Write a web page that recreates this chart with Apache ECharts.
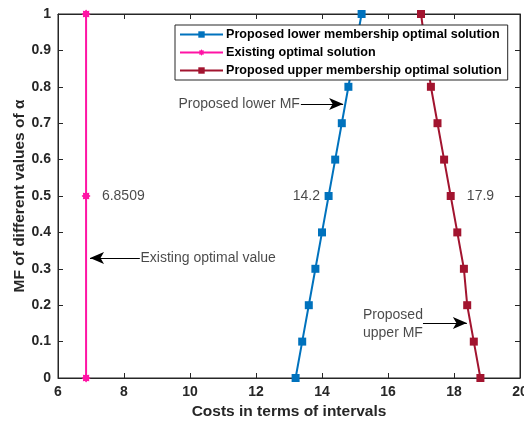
<!DOCTYPE html>
<html>
<head>
<meta charset="utf-8">
<script src="https://cdn.jsdelivr.net/npm/echarts@6/dist/echarts.min.js"></script>
<style>
html, body { margin: 0; padding: 0; background: #fff; }
#chart { width: 524px; height: 422px; }
</style>
</head>
<body>
<div id="chart"></div>
<script>
// alpha levels (y) and costs (x)
const alphaLevels = [0, 0.1, 0.2, 0.3, 0.4, 0.5, 0.6, 0.7, 0.8, 0.9, 1]
const lowerCosts = [13.2, 13.4, 13.6, 13.8, 14.0, 14.2, 14.4, 14.6, 14.8, 15.0, 15.2]
const upperCosts = [18.8, 18.6, 18.4, 18.3, 18.1, 17.9, 17.7, 17.5, 17.3, 17.15, 17.0]
const existingAlpha = [0, 0.5, 1]
const existingCost = 6.8509

const seriesNames = [
	"Proposed lower membership optimal solution",
	"Existing optimal solution",
	"Proposed upper membership optimal solution",
]

const font = "'Liberation Sans', Arial, sans-serif"
const blue = "#0072BD"
const pink = "#FF14A5"
const red = "#A2142F"
// chunky 8-point star, close to the matlab asterisk marker at this size
const starPath = "path://M10,0L6.5,2.7L7.1,7.1L2.7,6.5L0,10L-2.7,6.5L-7.1,7.1L-6.5,2.7L-10,0L-6.5,-2.7L-7.1,-7.1L-2.7,-6.5L0,-10L2.7,-6.5L7.1,-7.1L6.5,-2.7Z"

const pairs = (xs, ys) => xs.map((x, i) => [x, ys[i]])

const axisCommon = {
	axisLine: { show: true, onZero: false, lineStyle: { color: "#262626", width: 1 } },
	axisTick: { show: true, inside: true, length: 5, lineStyle: { color: "#262626" } },
	splitLine: { show: false },
}

const arrow = (from, to) => [
	{ coord: from, symbol: "none" },
	{ coord: to, symbol: "arrow" },
]

const textLabel = (x, y, text, align) => ({
	value: [x, y],
	label: {
		show: true,
		formatter: text,
		position: "inside",
		align: align,
		verticalAlign: "middle",
		color: "#1a1a1a",
		fontFamily: font,
		fontSize: 14,
	},
})

const option = {
	animation: false,
	backgroundColor: "#fff",
	grid: {
		left: 58, right: 4, top: 14, bottom: 44,
		outerBoundsMode: "none",
		show: true, borderColor: "#262626", borderWidth: 1,
	},
	legend: {
		data: seriesNames,
		orient: "vertical",
		left: 175,
		top: 25,
		padding: [3, 6, 3, 4],
		itemGap: 5,
		itemWidth: 43,
		itemHeight: 8,
		backgroundColor: "#fff",
		borderColor: "#262626",
		borderWidth: 1,
		borderRadius: 0,
		textStyle: { fontFamily: font, fontWeight: "bold", fontSize: 12.6, color: "#000", padding: [0, 0, 0, -2] },
	},
	xAxis: [
		{
			...axisCommon,
			type: "value",
			min: 6,
			max: 20,
			interval: 2,
			name: "Costs in terms of intervals",
			nameLocation: "middle",
			nameGap: 24,
			nameTextStyle: { fontFamily: font, fontWeight: "bold", fontSize: 15.5, color: "#262626" },
			axisLabel: { fontFamily: font, fontWeight: "bold", fontSize: 14, color: "#262626", margin: 7 },
		},
		{ ...axisCommon, type: "value", position: "top", min: 6, max: 20, interval: 2, axisLabel: { show: false } },
	],
	yAxis: [
		{
			...axisCommon,
			type: "value",
			min: 0,
			max: 1,
			interval: 0.1,
			name: "MF of different values of α",
			nameLocation: "middle",
			nameGap: 30,
			nameMoveOverlap: false,
			nameTextStyle: { fontFamily: font, fontWeight: "bold", fontSize: 15.5, color: "#262626" },
			axisLabel: { fontFamily: font, fontWeight: "bold", fontSize: 14, color: "#262626", margin: 7 },
		},
		{ ...axisCommon, type: "value", position: "right", min: 0, max: 1, interval: 0.1, axisLabel: { show: false } },
	],
	series: [
		{
			name: seriesNames[0],
			type: "line",
			data: pairs(lowerCosts, alphaLevels),
			color: blue,
			lineStyle: { width: 2 },
			symbol: "rect",
			symbolSize: 8,
			itemStyle: { color: blue },
			clip: false,
			z: 3,
		},
		{
			name: seriesNames[1],
			type: "line",
			data: existingAlpha.map((a) => [existingCost, a]),
			color: pink,
			lineStyle: { width: 2 },
			symbol: starPath,
			symbolSize: 9,
			symbolKeepAspect: true,
			itemStyle: { color: pink },
			clip: false,
			z: 3,
		},
		{
			name: seriesNames[2],
			type: "line",
			data: pairs(upperCosts, alphaLevels),
			color: red,
			lineStyle: { width: 2 },
			symbol: "rect",
			symbolSize: 8,
			itemStyle: { color: red },
			clip: false,
			z: 3,
		},
		{
			name: "annotations",
			type: "scatter",
			symbolSize: 0,
			silent: true,
			z: 4,
			data: [
				textLabel(13.33, 0.753, "Proposed lower MF", "right"),
				textLabel(7.33, 0.5, "6.8509", "left"),
				textLabel(13.94, 0.5, "14.2", "right"),
				textLabel(18.39, 0.5, "17.9", "left"),
				textLabel(8.5, 0.33, "Existing optimal value", "left"),
				textLabel(16.15, 0.173, "Proposed", "center"),
				textLabel(16.15, 0.124, "upper MF", "center"),
			],
			markLine: {
				silent: true,
				animation: false,
				symbolSize: [9, 14],
				label: { show: false },
				lineStyle: { color: "#000", width: 1, type: "solid" },
				itemStyle: { color: "#000" },
				data: [
					arrow([13.36, 0.753], [14.64, 0.753]),
					arrow([8.48, 0.33], [6.97, 0.33]),
					arrow([17.06, 0.151], [18.39, 0.151]),
				],
			},
		},
	],
}

const chart = echarts.init(document.getElementById("chart"))
chart.setOption(option)
</script>
</body>
</html>
